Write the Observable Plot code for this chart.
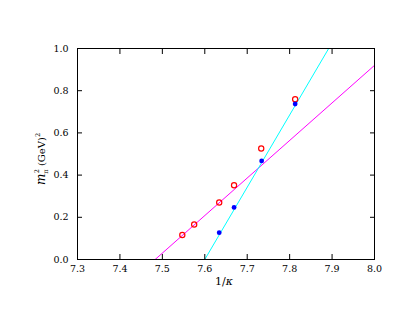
<!DOCTYPE html>
<html><head><meta charset="utf-8">
<script src="https://cdn.jsdelivr.net/npm/d3@7"></script>
<script src="https://cdn.jsdelivr.net/npm/@observablehq/plot@0.6"></script>
<style>body{margin:0;background:#fff}</style>
</head><body><div id="chart"></div>
<script>
const xTicks = [7.3, 7.4, 7.5, 7.6, 7.7, 7.8, 7.9, 8.0];
const yTicks = [0.0, 0.2, 0.4, 0.6, 0.8, 1.0];
const redX = [7.547, 7.575, 7.634, 7.669, 7.733, 7.813];
const redY = [0.116, 0.166, 0.270, 0.352, 0.526, 0.760];
const blueX = [7.634, 7.669, 7.734, 7.813];
const blueY = [0.127, 0.247, 0.467, 0.737];
const magentaFitX = [7.483, 8.0];
const magentaFitY = [0.0, 0.92];
const cyanFitX = [7.600, 7.892];
const cyanFitY = [0.0, 1.0];

const zip = (xs, ys) => xs.map((x, i) => ({x, y: ys[i]}));
const red = zip(redX, redY), blue = zip(blueX, blueY);
const magenta = zip(magentaFitX, magentaFitY), cyan = zip(cyanFitX, cyanFitY);
const f1 = d3.format(".1f");
const FONT = "'DejaVu Serif', 'Liberation Serif', serif";

const plot = Plot.plot({
  width: 415, height: 321,
  marginLeft: 77, marginRight: 41, marginTop: 48, marginBottom: 62,
  style: {fontFamily: FONT, fontSize: "9.5px", background: "white", color: "black"},
  x: {domain: [7.3, 8.0]},
  y: {domain: [0, 1]},
  marks: [
    Plot.line(magenta, {x: "x", y: "y", stroke: "#ff00ff", strokeWidth: 1, clip: true}),
    Plot.line(cyan, {x: "x", y: "y", stroke: "#00ffff", strokeWidth: 1, clip: true}),
    Plot.dot(red, {x: "x", y: "y", r: 2.6, stroke: "#ff0000", strokeWidth: 1.2, fill: "none"}),
    Plot.dot(blue, {x: "x", y: "y", r: 2.4, fill: "#0000ff", stroke: "none"}),
    Plot.frame({stroke: "black"}),
    Plot.axisX(xTicks, {anchor: "bottom", tickSize: -5, tickPadding: 11, tickFormat: f1, label: null}),
    Plot.axisX(xTicks, {anchor: "top", tickSize: -5, tickFormat: () => "", label: null}),
    Plot.axisY(yTicks, {anchor: "left", tickSize: -5, tickPadding: 14, tickFormat: f1, label: null}),
    Plot.axisY(yTicks, {anchor: "right", tickSize: -5, tickFormat: () => "", label: null})
  ]
});
document.getElementById("chart").appendChild(plot);

const svg = d3.select(plot);
// x label
const xl = svg.append("text")
  .attr("x", 224).attr("y", 285)
  .attr("text-anchor", "middle")
  .attr("font-family", FONT)
  .attr("font-size", 11).attr("fill", "black");
xl.append("tspan").text("1/");
xl.append("tspan").attr("font-style", "italic").text("κ");

// y label
const yl = svg.append("text")
  .attr("transform", "translate(45,159) rotate(-90)")
  .attr("text-anchor", "middle")
  .attr("font-family", FONT)
  .attr("font-size", 10).attr("fill", "black");
yl.append("tspan").attr("font-style", "italic").attr("font-size", 12).text("m");
yl.append("tspan").attr("font-size", 6.5).attr("dy", 2.5).text("π");
yl.append("tspan").attr("font-size", 6.5).attr("dx", -4).attr("dy", -8.5).text("2");
yl.append("tspan").attr("dy", 6).text(" (GeV)");
yl.append("tspan").attr("font-size", 6.5).attr("dy", -5).text("2");
</script>
</body></html>
